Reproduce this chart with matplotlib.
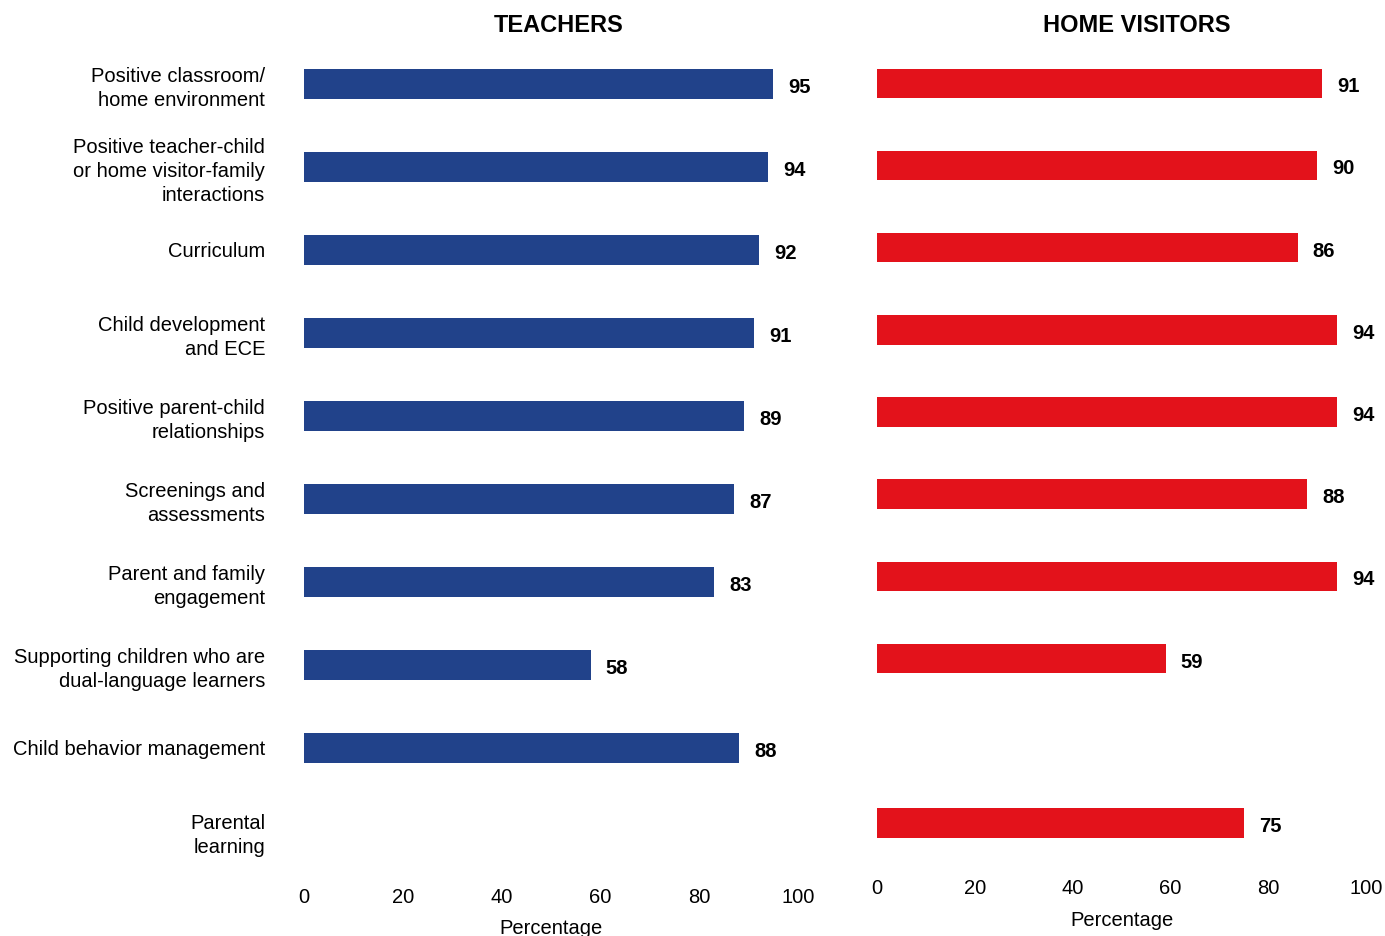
import numpy as np
import matplotlib
matplotlib.use("Agg")
import matplotlib.pyplot as plt

plt.rcParams['font.family'] = ['Liberation Sans', 'DejaVu Sans']

categories = [
    "Positive classroom/\nhome environment",
    "Positive teacher-child\nor home visitor-family\ninteractions",
    "Curriculum",
    "Child development\nand ECE",
    "Positive parent-child\nrelationships",
    "Screenings and\nassessments",
    "Parent and family\nengagement",
    "Supporting children who are\ndual-language learners",
    "Child behavior management",
    "Parental\nlearning",
]
teachers = [95, 94, 92, 91, 89, 87, 83, 58, 88, None]
home_visitors = [91, 90, 86, 94, 94, 88, 94, 59, None, 75]
xticks = [0, 20, 40, 60, 80, 100]

blue = '#21428A'
red = '#E3121B'


def draw(ax, vals, color, show_labels):
    y = np.arange(len(categories))
    for i, v in enumerate(vals):
        if v is None:
            continue
        ax.barh(y[i], v, height=0.36, color=color)
        ax.annotate(str(v), (v, y[i]), xytext=(11, -2.5), textcoords='offset points',
                    ha='left', va='center', fontsize=14.5, fontweight='bold')
    ax.set_ylim(len(categories) - 0.5, -0.5)
    ax.set_xlim(0, 100)
    ax.set_xticks(xticks)
    ax.set_yticks(y)
    if show_labels:
        ax.set_yticklabels(categories, fontsize=14.5, linespacing=1.35)
    else:
        ax.set_yticklabels([])
    ax.tick_params(axis='y', length=0, pad=28)
    ax.tick_params(axis='x', length=0, pad=11, labelsize=14.5)
    for s in ax.spines.values():
        s.set_visible(False)
    ax.set_xlabel('Percentage', fontsize=14.5, labelpad=9)


fig = plt.figure(figsize=(13.85, 9.36), dpi=100)
ax1 = fig.add_axes([0.2195, 0.0679, 0.3567, 0.8868])
ax2 = fig.add_axes([0.6332, 0.0769, 0.3531, 0.8780])
draw(ax1, teachers, blue, True)
draw(ax2, home_visitors, red, False)

fig.text(559 / 1385, 1 - 25 / 936, 'TEACHERS', ha='center', va='center',
         fontsize=17, fontweight='bold')
fig.text(1137 / 1385, 1 - 25 / 936, 'HOME VISITORS', ha='center', va='center',
         fontsize=17, fontweight='bold')

fig.savefig('out.png', dpi=100)
